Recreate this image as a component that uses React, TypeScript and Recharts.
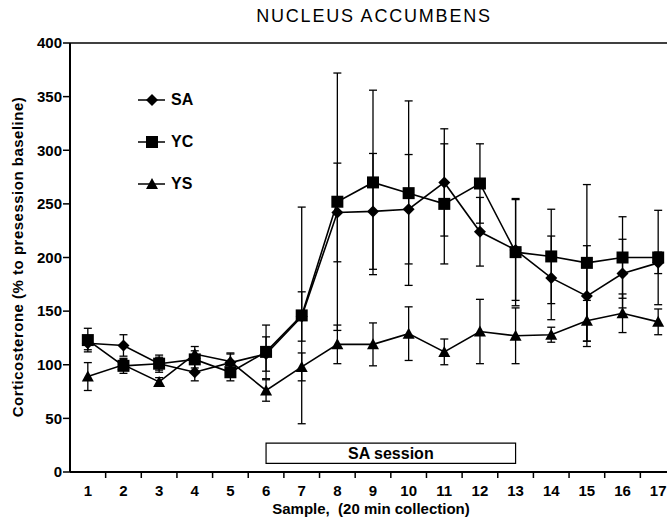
import { LineChart, Line, XAxis, YAxis, ErrorBar, ReferenceArea, ReferenceLine } from 'recharts';

const samples = [1, 2, 3, 4, 5, 6, 7, 8, 9, 10, 11, 12, 13, 14, 15, 16, 17];
const saMean = [120, 118, 101, 93, 102, 110, 145, 242, 243, 245, 270, 224, 207, 181, 164, 185, 195];
const saErr = [6, 10, 6, 8, 8, 16, 23, 46, 54, 51, 50, 32, 47, 39, 47, 32, 10];
const ycMean = [123, 99, 101, 105, 93, 112, 146, 252, 270, 260, 250, 269, 205, 201, 195, 200, 200];
const ycErr = [11, 7, 8, 8, 8, 25, 101, 120, 86, 86, 56, 37, 50, 44, 73, 38, 44];
const ysMean = [89, 100, 84, 110, 103, 76, 98, 119, 119, 129, 112, 131, 127, 128, 141, 148, 140];
const ysErr = [13, 5, 4, 7, 8, 10, 13, 18, 20, 25, 12, 30, 26, 7, 19, 18, 12];
const yTicks = [0, 50, 100, 150, 200, 250, 300, 350, 400];

const data = samples.map((s, i) => ({
  sample: s,
  sa: saMean[i],
  saErr: saErr[i],
  yc: ycMean[i],
  ycErr: ycErr[i],
  ys: ysMean[i],
  ysErr: ysErr[i],
}));

const W = 684;
const H = 520;
const M = { top: 43, right: 8, bottom: 18, left: 0 };
const Y_W = 70;
const HALF_BAND = (W - M.left - M.right - Y_W) / samples.length / 2;
const FONT = '"Liberation Sans", Arial, sans-serif';

function Diamond({ cx, cy }: any) {
  return <polygon points={`${cx},${cy - 6} ${cx + 6},${cy} ${cx},${cy + 6} ${cx - 6},${cy}`} fill="#000" />;
}
function Square({ cx, cy }: any) {
  return <rect x={cx - 6} y={cy - 6} width={12} height={12} fill="#000" />;
}
function Triangle({ cx, cy }: any) {
  return <polygon points={`${cx},${cy - 6} ${cx + 6},${cy + 5} ${cx - 6},${cy + 5}`} fill="#000" />;
}

const series = [
  { key: 'sa', name: 'SA', Mark: Diamond },
  { key: 'yc', name: 'YC', Mark: Square },
  { key: 'ys', name: 'YS', Mark: Triangle },
];

function XTick({ x, y, payload }: any) {
  return (
    <g>
      <line x1={x + HALF_BAND} x2={x + HALF_BAND} y1={y} y2={y + 6} stroke="#000" strokeWidth={1.5} />
      <text x={x} y={y + 24} textAnchor="middle" fontFamily={FONT} fontWeight="bold" fontSize={15} fill="#000">
        {payload.value}
      </text>
    </g>
  );
}

// legend drawn by hand, top left inside the plot
function LegendBox() {
  return (
    <div style={{ position: 'absolute', left: 135, top: 88 }}>
      {series.map(({ name, Mark }) => (
        <svg key={name} width={70} height={42} style={{ display: 'block' }}>
          <line x1={3} x2={30} y1={12} y2={12} stroke="#000" strokeWidth={1.5} />
          <Mark cx={17} cy={12} />
          <text x={36} y={17} fontFamily={FONT} fontWeight="bold" fontSize={16} fill="#000">
            {name}
          </text>
        </svg>
      ))}
    </div>
  );
}

export default function App() {
  return (
    <div style={{ position: 'fixed', left: 0, top: 0, width: 667, height: 520, overflow: 'hidden', background: '#fff', fontFamily: FONT }}>
      <LineChart width={W} height={H} data={data} margin={M}>
        <XAxis
          dataKey="sample"
          type="number"
          domain={[0.5, 17.5]}
          ticks={samples}
          interval={0}
          tickSize={0}
          tickMargin={0}
          tick={<XTick />}
          axisLine={{ stroke: '#000', strokeWidth: 2 }}
          height={30}
        />
        <YAxis
          domain={[0, 400]}
          ticks={yTicks}
          width={Y_W}
          tickSize={7}
          tickMargin={1}
          tickLine={{ stroke: '#000', strokeWidth: 1.5 }}
          axisLine={{ stroke: '#000', strokeWidth: 2 }}
          tick={{ fill: '#000', fontSize: 15, fontWeight: 'bold', fontFamily: FONT }}
        />
        <ReferenceLine y={400} stroke="#000" strokeWidth={1.5} />
        <ReferenceArea
          x1={6}
          x2={13}
          y1={8}
          y2={27}
          fill="#fff"
          fillOpacity={1}
          stroke="#000"
          strokeWidth={1.2}
          label={{ value: 'SA session', position: 'center', fill: '#000', fontSize: 16, fontWeight: 'bold', fontFamily: FONT }}
        />
        {series.map(({ key, name, Mark }) => (
          <Line
            key={key}
            dataKey={key}
            name={name}
            stroke="#000"
            strokeWidth={1.6}
            isAnimationActive={false}
            dot={(p: any) => <Mark key={`${key}-${p.index}`} cx={p.cx} cy={p.cy} />}
            activeDot={false}
          >
            <ErrorBar dataKey={`${key}Err`} width={4} stroke="#000" strokeWidth={1.3} direction="y" />
          </Line>
        ))}
      </LineChart>
      <LegendBox />
      <div style={{ position: 'absolute', left: 374, top: 6, transform: 'translateX(-50%)', fontSize: 18, letterSpacing: 1.8, whiteSpace: 'nowrap', color: '#000' }}>
        NUCLEUS ACCUMBENS
      </div>
      <div style={{ position: 'absolute', left: 17, top: 257, transform: 'translate(-50%, -50%) rotate(-90deg)', fontSize: 15, letterSpacing: 0.5, fontWeight: 'bold', whiteSpace: 'nowrap', color: '#000' }}>
        Corticosterone (% to presession baseline)
      </div>
      <div style={{ position: 'absolute', left: 371, top: 500, transform: 'translateX(-50%)', fontSize: 15, fontWeight: 'bold', whiteSpace: 'pre', color: '#000' }}>
        {'Sample,  (20 min collection)'}
      </div>
    </div>
  );
}
